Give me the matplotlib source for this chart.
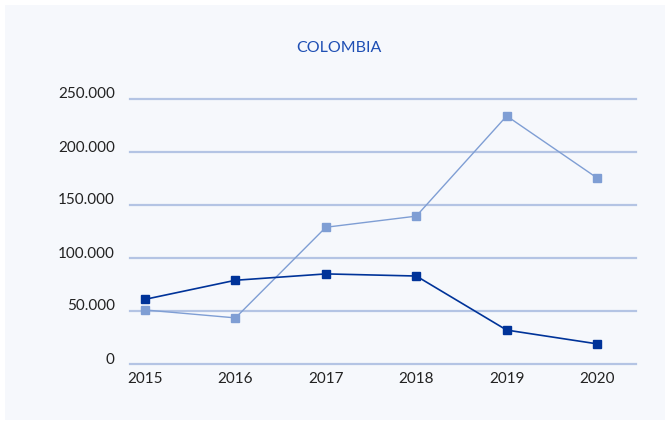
import matplotlib
matplotlib.use('Agg')
import matplotlib.pyplot as plt
import matplotlib.transforms as mtransforms
from matplotlib.ticker import FuncFormatter

years = ['2015', '2016', '2017', '2018', '2019', '2020']
series_dark = [61000, 79000, 85000, 83000, 32000, 19000]
series_light = [51000, 43500, 129000, 139500, 234000, 175500]
yticks = [0, 50000, 100000, 150000, 200000, 250000]

plt.rcParams['font.family'] = ['Lato', 'DejaVu Sans']

fig = plt.figure(figsize=(6.7, 4.25), dpi=100)
fig.patch.set_facecolor('white')

# light panel behind the chart
bg = fig.add_axes([5 / 670, 5 / 425, 660 / 670, 415 / 425], zorder=0)
bg.set_facecolor('#F6F8FC')
bg.set_xticks([])
bg.set_yticks([])
for s in bg.spines.values():
    s.set_visible(False)

ax = fig.add_axes([130 / 670, 1 - 364 / 425, 506 / 670, 265 / 425], zorder=1)
ax.set_facecolor('none')

x = list(range(len(years)))
ax.plot(x, series_light, color='#7F9ED4', lw=1.0, marker='s', ms=6,
        mec='#7F9ED4', zorder=3)
ax.plot(x, series_dark, color='#003399', lw=1.2, marker='s', ms=6,
        mec='#003399', zorder=4)

ax.set_xlim(-0.166, 5.43)
ax.set_ylim(0, 250000)
ax.set_xticks(x)
ax.set_xticklabels(years, fontsize=11)
ax.set_yticks(yticks)
ax.yaxis.set_major_formatter(FuncFormatter(lambda v, p: f'{int(v):,}'.replace(',', '.')))

ax.grid(axis='y', color='#B4C4E4', lw=1.6, zorder=1)
for gl in ax.get_ygridlines():
    gl.set_clip_on(False)
ax.set_axisbelow(True)
for s in ax.spines.values():
    s.set_visible(False)
ax.tick_params(axis='both', length=0, labelsize=11, labelcolor='#222222')
ax.tick_params(axis='y', pad=11)
ax.tick_params(axis='x', pad=6)

# y labels sit a bit above their gridlines
shift = mtransforms.ScaledTranslation(0, 6 / 100, fig.dpi_scale_trans)
for lbl in ax.get_yticklabels():
    lbl.set_transform(lbl.get_transform() + shift)

fig.text(339 / 670, 1 - 48 / 425, 'COLOMBIA', ha='center', va='center',
         fontsize=11.5, color='#1F4FB4')

fig.savefig('out.png', dpi=100, facecolor='white')
